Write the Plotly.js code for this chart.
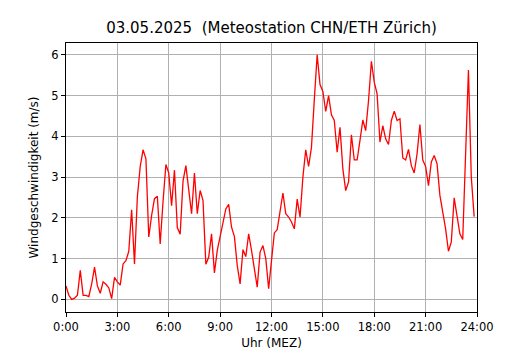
<!DOCTYPE html>
<html>
<head>
<meta charset="utf-8">
<script src="https://cdn.plot.ly/plotly-3.0.1.min.js"></script>
<style>html,body{margin:0;padding:0;background:#fff;}#chart{width:530px;height:350px;}</style>
</head>
<body>
<div id="chart"></div>
<script>
// 10-minute wind speed values (m/s), 00:00 .. 23:50
const windSpeed = [
  0.33, 0.10, 0.00, 0.03, 0.10, 0.71, 0.10, 0.10, 0.07, 0.38, 0.79, 0.33,
  0.15, 0.43, 0.37, 0.28, 0.02, 0.54, 0.43, 0.35, 0.87, 0.95, 1.18, 2.20,
  0.87, 2.51, 3.26, 3.67, 3.45, 1.53, 2.06, 2.47, 2.53, 1.36, 2.40, 3.31,
  3.10, 2.30, 3.17, 1.76, 1.60, 2.90, 3.28, 2.75, 2.10, 3.10, 2.10, 2.67,
  2.43, 0.86, 1.04, 1.61, 0.65, 1.20, 1.53, 1.84, 2.22, 2.33, 1.77, 1.54,
  0.83, 0.38, 1.22, 1.05, 1.61, 1.20, 0.71, 0.30, 1.16, 1.32, 1.00, 0.26,
  0.95, 1.63, 1.71, 2.18, 2.61, 2.10, 2.02, 1.90, 1.73, 2.46, 2.02, 3.00,
  3.67, 3.26, 3.73, 4.90, 6.00, 5.27, 5.10, 4.61, 5.00, 4.53, 4.39, 3.61,
  4.22, 3.20, 2.67, 2.88, 4.04, 3.42, 3.42, 3.90, 4.40, 4.14, 4.88, 5.84,
  5.33, 5.04, 3.86, 4.26, 3.94, 3.80, 4.39, 4.62, 4.39, 4.43, 3.47, 3.42,
  3.68, 3.28, 3.10, 3.57, 4.29, 3.42, 3.26, 2.79, 3.37, 3.53, 3.33, 2.55,
  2.16, 1.73, 1.18, 1.41, 2.49, 2.10, 1.61, 1.47, 3.70, 5.63, 3.00, 2.03
];
// time of day in hours for each 10-minute reading
const timeHours = windSpeed.map((_, i) => i / 6);
const xTickVals = [0, 3, 6, 9, 12, 15, 18, 21, 24];
const xTickText = ["0:00", "3:00", "6:00", "9:00", "12:00", "15:00", "18:00", "21:00", "24:00"];
const yTickVals = [0, 1, 2, 3, 4, 5, 6];

const font = "DejaVu Sans, Liberation Sans, sans-serif";
const trace = {
  x: timeHours, y: windSpeed, type: "scatter", mode: "lines",
  line: {color: "#ff0000", width: 1.3}, hoverinfo: "skip"
};
const axisCommon = {
  showline: true, mirror: true, linecolor: "#000", linewidth: 1,
  showgrid: true, gridcolor: "#b0b0b0", gridwidth: 1,
  ticks: "outside", ticklen: 4, tickcolor: "#000", tickwidth: 1,
  zeroline: false, tickfont: {family: font, size: 11.5, color: "#000"}
};
const layout = {
  width: 530, height: 350,
  margin: {l: 66, r: 53, t: 43, b: 38, pad: 0},
  paper_bgcolor: "#fff", plot_bgcolor: "#fff",
  showlegend: false,
  title: {text: "03.05.2025  (Meteostation CHN/ETH Zürich)", font: {family: font, size: 15, color: "#000"},
          x: 0.5, xref: "paper", xanchor: "center", y: 1 - 28/350, yref: "container", yanchor: "middle"},
  xaxis: Object.assign({}, axisCommon, {
    range: [0, 24], tickmode: "array", tickvals: xTickVals, ticktext: xTickText,
    title: {text: "Uhr (MEZ)", font: {family: font, size: 12, color: "#000"}, standoff: 8}
  }),
  yaxis: Object.assign({}, axisCommon, {
    range: [-0.31, 6.29], tickmode: "array", tickvals: yTickVals,
    title: {text: "Windgeschwindigkeit (m/s)", font: {family: font, size: 12, color: "#000"}, standoff: 10}
  })
};
Plotly.newPlot("chart", [trace], layout, {staticPlot: true, displayModeBar: false});
</script>
</body>
</html>
